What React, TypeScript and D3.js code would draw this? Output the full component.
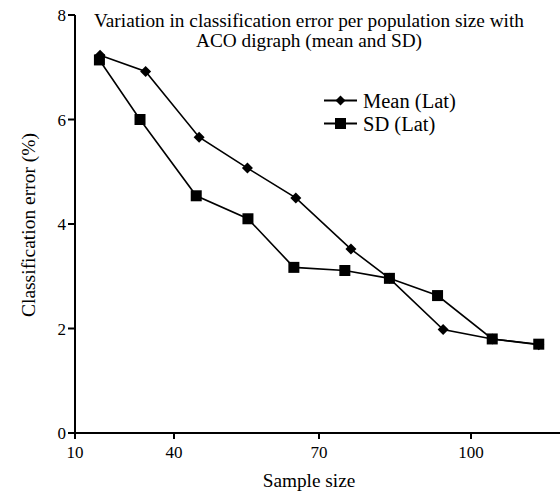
import React from "react";
import * as d3 from "d3";

const xTickValues = [10, 40, 70, 100];
const yTickValues = [0, 2, 4, 6, 8];
const meanSampleSize = [17.6, 31.4, 45.2, 55.2, 65.2, 76.3, 83.9, 94.5, 104.2, 113.4];
const meanError = [7.23, 6.92, 5.66, 5.07, 4.5, 3.52, 2.96, 1.98, 1.8, 1.69];
const sdSampleSize = [17.4, 29.7, 44.6, 55.3, 64.8, 75.1, 83.9, 93.4, 104.2, 113.4];
const sdError = [7.14, 6.0, 4.54, 4.1, 3.17, 3.11, 2.96, 2.63, 1.8, 1.7];
const titleLines = [
  "Variation in classification error per population size with",
  "ACO digraph (mean and SD)",
];
const seriesNames = ["Mean (Lat)", "SD (Lat)"];

const W = 560;
const H = 494;
const FONT = '"Liberation Serif", "Times New Roman", Times, serif';

export default function App() {
  // piecewise linear axis, as in the original figure
  const x = d3
    .scaleLinear()
    .domain([10, 40, 70, 100, 117.6])
    .range([75, 174, 319, 471, 560]);
  const y = d3.scaleLinear().domain([0, 8]).range([433, 15]);

  const line = d3
    .line<[number, number]>()
    .x((d) => x(d[0]))
    .y((d) => y(d[1]));

  const meanPts: [number, number][] = meanSampleSize.map((s, i) => [s, meanError[i]]);
  const sdPts: [number, number][] = sdSampleSize.map((s, i) => [s, sdError[i]]);

  const diamond = (cx: number, cy: number, r: number) =>
    `M${cx},${cy - r}L${cx + r},${cy}L${cx},${cy + r}L${cx - r},${cy}Z`;
  const sq = 5.5;

  const legendX = 324;
  const legendY = [100.5, 123.5];
  const ts = { fontFamily: FONT } as React.CSSProperties;

  return (
    <svg
      width={W}
      height={H}
      style={{ position: "absolute", left: 0, top: 0, background: "#fff", fontFamily: FONT }}
    >
      <rect width={W} height={H} fill="#fff" />
      {/* title */}
      {titleLines.map((t, i) => (
        <text key={i} x={309} y={27 + i * 20} textAnchor="middle" fontSize={19.3} fill="#000" style={ts}>
          {t}
        </text>
      ))}
      {/* y axis */}
      <line x1={x(10)} x2={x(10)} y1={y(0)} y2={y(8)} stroke="#000" strokeWidth={2} />
      {yTickValues.map((v) => (
        <g key={v}>
          <line x1={x(10) - 7} x2={x(10)} y1={y(v)} y2={y(v)} stroke="#000" strokeWidth={2} />
          <text x={x(10) - 9} y={y(v) + 6} textAnchor="end" fontSize={17} style={ts}>
            {v}
          </text>
        </g>
      ))}
      {/* x axis */}
      <line x1={x(10) - 1} x2={W} y1={y(0)} y2={y(0)} stroke="#000" strokeWidth={2} />
      {xTickValues.map((v) => (
        <g key={v}>
          <line x1={x(v)} x2={x(v)} y1={y(0)} y2={y(0) + 6} stroke="#000" strokeWidth={2} />
          <text x={x(v)} y={y(0) + 25} textAnchor="middle" fontSize={17} style={ts}>
            {v}
          </text>
        </g>
      ))}
      <text x={309} y={487} textAnchor="middle" fontSize={19.3} style={ts}>
        Sample size
      </text>
      <text
        transform={`translate(35,${225}) rotate(-90)`}
        textAnchor="middle"
        fontSize={19.5}
        style={ts}
      >
        Classification error (%)
      </text>
      {/* series */}
      <path d={line(meanPts) || ""} fill="none" stroke="#000" strokeWidth={1.6} />
      <path d={line(sdPts) || ""} fill="none" stroke="#000" strokeWidth={1.6} />
      {meanPts.map((d, i) => (
        <path key={"m" + i} d={diamond(x(d[0]), y(d[1]), 5.5)} fill="#000" />
      ))}
      {sdPts.map((d, i) => (
        <rect
          key={"s" + i}
          x={x(d[0]) - sq}
          y={y(d[1]) - sq}
          width={sq * 2}
          height={sq * 2}
          fill="#000"
        />
      ))}
      {/* legend */}
      {seriesNames.map((name, i) => (
        <g key={name}>
          <line
            x1={legendX}
            x2={legendX + 33}
            y1={legendY[i]}
            y2={legendY[i]}
            stroke="#000"
            strokeWidth={1.8}
          />
          {i === 0 ? (
            <path d={diamond(legendX + 16.5, legendY[i], 5)} fill="#000" />
          ) : (
            <rect x={legendX + 16.5 - sq} y={legendY[i] - sq} width={sq * 2} height={sq * 2} fill="#000" />
          )}
          <text x={363} y={legendY[i] + 7.5} fontSize={20.5} style={ts}>
            {name}
          </text>
        </g>
      ))}
    </svg>
  );
}
